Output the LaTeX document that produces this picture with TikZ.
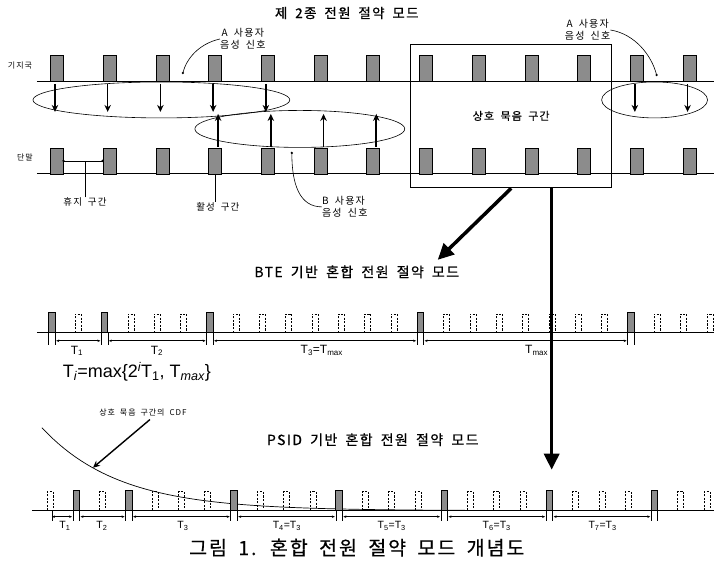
\documentclass[tikz,border=0pt]{standalone}
\usepackage{fontspec}
\setmainfont{Noto Sans CJK KR}
\newfontfamily\kr[LetterSpace=12,WordSpace=1.8]{Noto Sans CJK KR}
\newfontfamily\krb[LetterSpace=10,WordSpace=1.8,FakeBold=0.6]{Noto Sans CJK KR}
\newfontfamily\ar{Liberation Sans}
\usetikzlibrary{arrows.meta,shapes.geometric,calc}
\newcommand\fsz[2]{\fontsize{#1}{#2}\selectfont}
\begin{document}
\begin{tikzpicture}[x=1pt,y=-1pt,
  base/.style={line width=0.9pt},
  blk/.style={draw=black,line width=0.7pt,fill=black!45,inner sep=0pt,outer sep=0pt,minimum width=13pt,minimum height=26pt,anchor=south},
  sblk/.style={blk,minimum width=6.5pt,minimum height=20pt},
  dblk/.style={line width=0.6pt,dash pattern=on 2.2pt off 1.4pt},
  ell/.style={draw,ellipse,line width=0.6pt,inner sep=0pt},
  sarr/.style={line width=1.6pt,-{Stealth[length=7pt,width=6.5pt]}},
  big/.style={line width=3.5pt,-{Triangle[length=16pt,width=15pt]}},
  dim/.style={line width=0.6pt,{Stealth[length=3pt,width=2.5pt]}-{Stealth[length=3pt,width=2.5pt]}},
  tick/.style={line width=0.6pt},
  lbl/.style={inner sep=0pt,font=\kr\fsz{10}{12}},
  tl/.style={inner sep=0pt,font=\ar\fsz{12}{14}},
  pl/.style={inner sep=0pt,font=\ar\fsz{10.5}{12}},
  con/.style={line width=0.6pt},
  dot/.style={circle,fill,inner sep=0pt,minimum size=2.6pt}]
\fill[white] (0,0) rectangle (714,574);
% ---------- top section ----------
\node[inner sep=0pt,font=\krb\fsz{13.5}{15}] (title) at (347,13) {제 2종 전원 절약 모드};
\node[inner sep=0pt,font=\kr\fsz{8}{9}] (bsl) at (20,66) {기지국};
\node[inner sep=0pt,font=\kr\fsz{8}{9}] (tml) at (25,158) {단말};
\coordinate (bl0) at (37,81); \coordinate (bl1) at (714,81);
\coordinate (tl0) at (37,174); \coordinate (tl1) at (714,174);
\draw[base] (bl0) -- (bl1);
\draw[base] (tl0) -- (tl1);
\foreach \k in {0,...,12}{
  \pgfmathsetmacro\cx{57+52.75*\k}
  \node[blk] (ap\k) at (\cx,81) {};
  \node[blk] (tm\k) at (\cx,174) {};
}
\node[ell,minimum width=257pt,minimum height=36pt] (elA) at (161.5,100) {};
\node[ell,minimum width=210pt,minimum height=37pt] (elB) at (300,129) {};
\node[ell,minimum width=106pt,minimum height=36pt] (elC) at (655,100) {};
\foreach \k in {0,...,4,11,12}
  \draw[sarr] ($(ap\k.south)+(-2,3)$) -- ($(ap\k.south)+(-2,31)$);
\foreach \k in {3,...,6}
  \draw[sarr] ($(tm\k.north)+(3,-1)$) -- ($(tm\k.north)+(3,-34)$);
\node[draw,line width=0.8pt,minimum width=201pt,minimum height=144pt,inner sep=0pt,font=\krb\fsz{11}{12}] (box) at (511.5,116) {상호 묵음 구간};
% labels
\node[lbl,align=center] (aL) at (243,39) {A 사용자\\음성 신호};
\coordinate (aLe) at (183,73);
\draw[con] (aL.west) .. controls (198,44) and (186,60) .. (aLe);
\node[dot] (aLd) at (aLe) {};
\node[lbl,align=center] (aR) at (588,30) {A 사용자\\음성 신호};
\coordinate (aRe) at (657,75);
\draw[con] (aR.east) .. controls (635,34) and (652,55) .. (aRe);
\node[dot] (aRd) at (aRe) {};
\node[lbl,align=left] (bL) at (345,207) {B 사용자\\음성 신호};
\coordinate (bLe) at (292,153);
\draw[con] (bL.west) .. controls (300,207) and (292,185) .. (bLe);
\node[dot] (bLd) at (bLe) {};
\node[lbl,font=\kr\fsz{9.5}{11}] (hz) at (85,202) {휴지 구간};
\coordinate (hzL) at (63.5,161); \coordinate (hzR) at (102.7,161);
\draw[con,line width=0.8pt] (hzL) -- (hzR);
\node[dot] (hzd1) at (hzL) {};
\node[dot] (hzd2) at (hzR) {};
\draw[con] (hz.north) -- (hz.north |- hzL);
\node[lbl,font=\kr\fsz{9.5}{11}] (hs) at (218,207) {활성 구간};
\draw[con] (tm3.south) -- (tm3.south |- hs.north);
% ---------- BTE ----------
\node[inner sep=0pt,font=\krb\fsz{14}{16}] (bte) at (357,272) {BTE 기반 혼합 전원 절약 모드};
\coordinate (bb0) at (37,333); \coordinate (bb1) at (714,333);
\draw[base] (bb0) -- (bb1);
\foreach \k in {1,3,4,5,7,8,...,13,15,16,...,21,23,24,25}{
  \pgfmathsetmacro\cx{52+26.33*\k}
  \draw[dblk] (\cx-3,333) -- (\cx-3,314) -- (\cx+3,314) -- (\cx+3,333);
}
\foreach \k in {0,2,6,14,22}{
  \pgfmathsetmacro\cx{52+26.33*\k}
  \node[sblk] (bs\k) at (\cx,333) {};
  \draw[tick] (bs\k.south west) -- ++(0,12);
  \draw[tick] (bs\k.south east) -- ++(0,12);
}
\draw[dim] ($(bs0.south east)+(1,8)$) -- ($(bs2.south west)+(-1,8)$);
\draw[dim] ($(bs2.south east)+(1,8)$) -- ($(bs6.south west)+(-1,8)$);
\draw[dim] ($(bs6.south east)+(1,8)$) -- ($(bs14.south west)+(-1,8)$);
\draw[dim] ($(bs14.south east)+(1,8)$) -- ($(bs22.south west)+(-1,8)$);
\node[tl] (bt1) at (77,351) {T\textsubscript{1}};
\node[tl] (bt2) at (157,351) {T\textsubscript{2}};
\node[tl] (bt3) at (322,351) {T\textsubscript{3}=T\textsubscript{max}};
\node[tl] (bt4) at (537,351) {T\textsubscript{max}};
\node[inner sep=0pt,font=\ar\fsz{18}{20}] (form) at (137,372) {T\textsubscript{\itshape i}=max\{2\textsuperscript{\itshape i}T\textsubscript{1}, T\textsubscript{\itshape max}\}};
% ---------- PSID ----------
\node[inner sep=0pt,font=\krb\fsz{14}{16}] (psid) at (373,440) {PSID 기반 혼합 전원 절약 모드};
\node[inner sep=0pt,font=\kr\fsz{8}{9}] (cdf) at (143,413) {상호 묵음 구간의 CDF};
\draw[line width=0.7pt] plot[domain=42:480,samples=80] (\x,{511-83*exp(-(\x-42)/77)});
\coordinate (cdfe) at (93,468);
\draw[line width=1.4pt,-{Stealth[length=7pt,width=6.5pt]}] ($(cdf.south)+(7,3)$) -- (cdfe);
\coordinate (pb0) at (32,511); \coordinate (pb1) at (714,511);
\draw[base] (pb0) -- (pb1);
\foreach \k in {0,2,4,5,6,8,9,10,12,13,14,16,17,18,20,21,22,24,25}{
  \pgfmathsetmacro\cx{50+26.3*\k}
  \draw[dblk] (\cx-3,511) -- (\cx-3,492) -- (\cx+3,492) -- (\cx+3,511);
}
\foreach \k in {1,3,7,11,15,19,23}{
  \pgfmathsetmacro\cx{50+26.3*\k}
  \node[sblk] (ps\k) at (\cx,511) {};
  \draw[tick] (ps\k.south west) -- ++(0,10);
  \draw[tick] (ps\k.south east) -- ++(0,10);
}
\coordinate (p0) at (52,511);
\draw[tick] (p0) -- ++(0,10);
\draw[dim] ($(p0)+(0,6)$) -- ($(ps1.south west)+(-1,6)$);
\draw[dim] ($(ps1.south east)+(1,6)$) -- ($(ps3.south west)+(-1,6)$);
\draw[dim] ($(ps3.south east)+(1,6)$) -- ($(ps7.south west)+(-1,6)$);
\draw[dim] ($(ps7.south east)+(1,6)$) -- ($(ps11.south west)+(-1,6)$);
\draw[dim] ($(ps11.south east)+(1,6)$) -- ($(ps15.south west)+(-1,6)$);
\draw[dim] ($(ps15.south east)+(1,6)$) -- ($(ps19.south west)+(-1,6)$);
\draw[dim] ($(ps19.south east)+(1,6)$) -- ($(ps23.south west)+(-1,6)$);
\node[pl] (pt1) at (65,526) {T\textsubscript{1}};
\node[pl] (pt2) at (102,526) {T\textsubscript{2}};
\node[pl] (pt3) at (183,526) {T\textsubscript{3}};
\node[pl] (pt4) at (287,526) {T\textsubscript{4}=T\textsubscript{3}};
\node[pl] (pt5) at (392,526) {T\textsubscript{5}=T\textsubscript{3}};
\node[pl] (pt6) at (497,526) {T\textsubscript{6}=T\textsubscript{3}};
\node[pl] (pt7) at (603,526) {T\textsubscript{7}=T\textsubscript{3}};
\node[inner sep=0pt,font=\krb\fsz{19.5}{22}] (cap) at (357,548) {그림 1. 혼합 전원 절약 모드 개념도};
% ---------- big arrows ----------
\coordinate (d1e) at (438,260);
\draw[big] (box.south) -- (d1e);
\coordinate (d2e) at (552,470);
\draw[big] (d2e |- box.south) -- (d2e);
\end{tikzpicture}
\end{document}
